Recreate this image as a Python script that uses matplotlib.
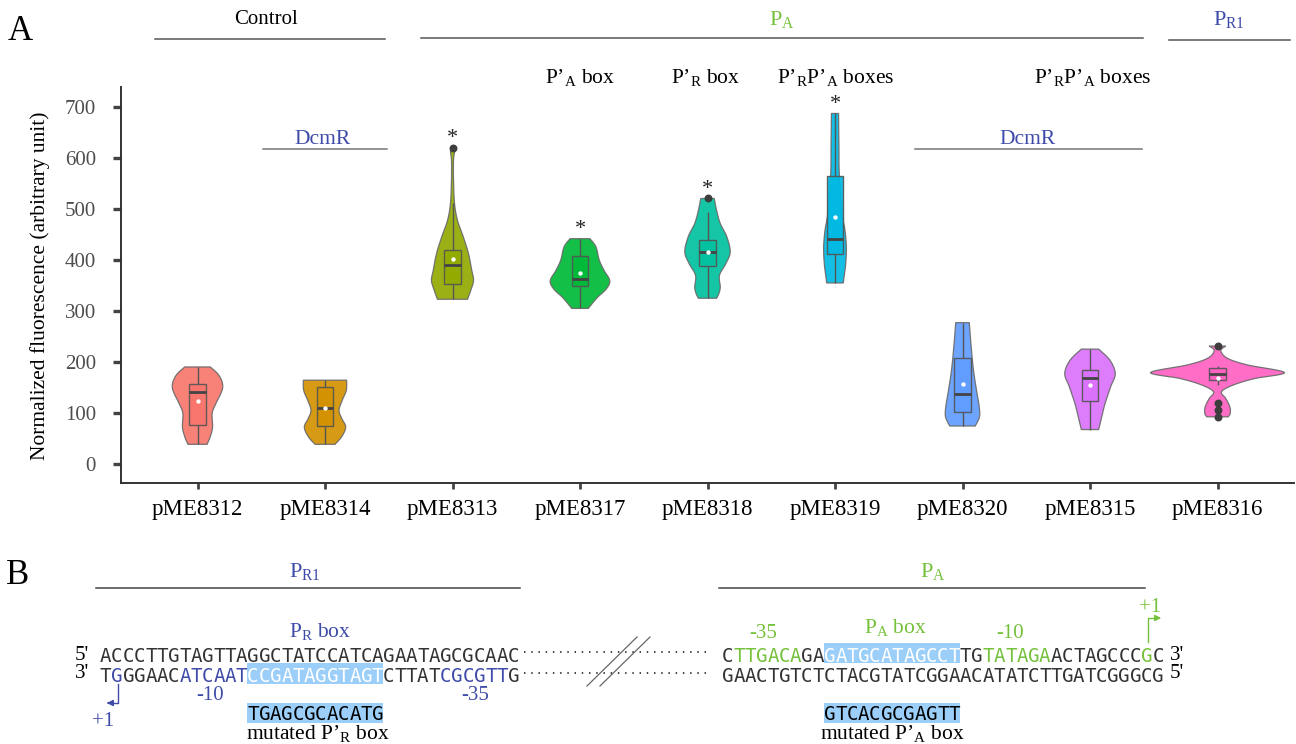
import matplotlib
matplotlib.use("Agg")
import matplotlib.pyplot as plt
from matplotlib.patches import Rectangle, Polygon
import numpy as np

plt.rcParams['font.family'] = ['Liberation Serif', 'DejaVu Serif']
plt.rcParams['mathtext.fontset'] = 'custom'
plt.rcParams['mathtext.rm'] = 'Liberation Serif'
plt.rcParams['mathtext.it'] = 'Liberation Serif:italic'
plt.rcParams['mathtext.bf'] = 'Liberation Serif:bold'

# ---- panel A data ----
plasmids = ['pME8312', 'pME8314', 'pME8313', 'pME8317', 'pME8318',
            'pME8319', 'pME8320', 'pME8315', 'pME8316']
colors = ['#F8766D', '#D39200', '#93AA00', '#00BA38', '#00C19F',
          '#00B9E3', '#619CFF', '#DB72FB', '#FF61C3']

whisker_lo = [38, 38, 323, 305, 325, 355, 74, 67, 154]
q1 = [76, 74, 352, 350, 389, 411, 101, 123, 165]
median = [141, 110, 391, 363, 416, 442, 136, 168, 177]
q3 = [156, 150, 420, 407, 440, 565, 207, 184, 187]
whisker_hi = [190, 164, 512, 442, 495, 688, 277, 225, 192]
means = [123, 110, 402, 374, 416, 484, 156, 154, 169]
outliers = [[], [], [620], [], [521], [], [], [], [231, 119, 105, 92]]
significant = [False, False, True, True, True, True, False, False, False]

# violin outlines: value levels and half-width (in category units)
violin_levels = [
    [38, 53, 72, 99, 118, 138, 151, 164, 177, 190],
    [38, 53, 72, 89, 105, 125, 144, 164],
    [323, 341, 360, 380, 413, 446, 478, 511, 557, 596, 613, 620],
    [305, 325, 344, 360, 380, 400, 426, 442],
    [325, 334, 347, 370, 393, 416, 446, 472, 498, 521],
    [355, 367, 393, 426, 459, 492, 567, 622, 688],
    [74, 92, 112, 144, 184, 230, 277],
    [67, 92, 118, 151, 177, 203, 225],
    [92, 99, 112, 128, 141, 154, 167, 179, 194, 207, 222, 231],
]
violin_width = [
    [0.075, 0.100, 0.118, 0.115, 0.144, 0.183, 0.198, 0.188, 0.157, 0.100],
    [0.078, 0.131, 0.162, 0.131, 0.110, 0.136, 0.167, 0.170],
    [0.118, 0.144, 0.165, 0.151, 0.125, 0.084, 0.039, 0.016, 0.008, 0.008, 0.016, 0.010],
    [0.065, 0.131, 0.209, 0.233, 0.188, 0.151, 0.125, 0.078],
    [0.071, 0.089, 0.100, 0.094, 0.144, 0.178, 0.151, 0.100, 0.071, 0.053],
    [0.065, 0.071, 0.084, 0.089, 0.078, 0.057, 0.034, 0.031, 0.028],
    [0.100, 0.133, 0.131, 0.110, 0.086, 0.068, 0.053],
    [0.068, 0.092, 0.118, 0.162, 0.198, 0.157, 0.068],
    [0.084, 0.100, 0.096, 0.065, 0.031, 0.118, 0.288, 0.525, 0.235, 0.078, 0.026, 0.065],
]

# ---- panel B sequences ----
pr1_top = 'ACCCTTGTAGTTAGGCTATCCATCAGAATAGCGCAAC'
pr1_bottom = 'TGGGAACATCAATCCGATAGGTAGTCTTATCGCGTTG'
pa_top = 'CTTGACAGAGATGCATAGCCTTGTATAGAACTAGCCCGC'
pa_bottom = 'GAACTGTCTCTACGTATCGGAACATATCTTGATCGGGCG'
pr_box_mut = 'TGAGCGCACATG'
pa_box_mut = 'GTCACGCGAGTT'

BLUE = '#3E4BA8'
GREEN = '#76C13C'
HIL = '#9BCFF9'
SEQ = '#333333'


def smooth_curve(xs, ys, n=16):
    p = np.column_stack([xs, ys]).astype(float)
    p = np.vstack([p[0], p, p[-1]])
    t = np.linspace(0, 1, n, endpoint=False)[:, None]
    out = []
    for i in range(1, len(p) - 2):
        p0, p1, p2, p3 = p[i - 1], p[i], p[i + 1], p[i + 2]
        out.append(0.5 * (2 * p1 + (-p0 + p2) * t + (2 * p0 - 5 * p1 + 4 * p2 - p3) * t ** 2
                          + (-p0 + 3 * p1 - 3 * p2 + p3) * t ** 3))
    out.append(p[-2][None])
    return np.vstack(out)


fig = plt.figure(figsize=(12.96, 7.44), dpi=100)
ax = fig.add_axes([121 / 1296, 1 - 483 / 744, 1173 / 1296, 396 / 744])
ax.patch.set_alpha(0)

for i, name in enumerate(plasmids):
    c = smooth_curve(violin_levels[i], violin_width[i])
    v, w = c[:, 0], np.clip(c[:, 1], 0.004, None)
    xs = np.concatenate([i + w, (i - w)[::-1]])
    ys = np.concatenate([v, v[::-1]])
    ax.add_patch(Polygon(np.column_stack([xs, ys]), closed=True, facecolor=colors[i],
                         edgecolor='#6a6a6a', lw=0.9, alpha=0.92, zorder=2))
    bw = 0.064
    ax.vlines(i, whisker_lo[i], q1[i], color='#555555', lw=1.0, zorder=3)
    ax.vlines(i, q3[i], whisker_hi[i], color='#555555', lw=1.0, zorder=3)
    ax.add_patch(Rectangle((i - bw, q1[i]), 2 * bw, q3[i] - q1[i], facecolor=colors[i],
                           edgecolor='#555555', lw=1.0, alpha=0.92, zorder=3))
    ax.hlines(median[i], i - bw, i + bw, color='#444444', lw=2.0, zorder=4)
    if outliers[i]:
        ax.scatter([i] * len(outliers[i]), outliers[i], s=22, color='#3d3d3d', zorder=5)
    ax.scatter([i], [means[i]], s=10, color='white', zorder=6, linewidths=0)
    if significant[i]:
        top = max([whisker_hi[i]] + outliers[i])
        ax.text(i, top + 18, '*', ha='center', va='center', fontsize=16, color='#222222')

ax.set_xlim(-0.6, 8.6)
ax.set_ylim(-38, 740)
ax.set_xticks(range(len(plasmids)), plasmids, fontsize=16.5, color='black')
ax.set_yticks(range(0, 701, 100))
ax.tick_params(axis='y', labelsize=15, labelcolor='#4d4d4d', length=6, width=2.4,
               color='#444444', pad=12)
ax.tick_params(axis='x', length=4.5, width=2, color='#444444', pad=7)
for s in ['top', 'right']:
    ax.spines[s].set_visible(False)
for s in ['left', 'bottom']:
    ax.spines[s].set_color('#333333')
    ax.spines[s].set_linewidth(1.4)

# ---- overlay in pixel coordinates for annotations ----
an = fig.add_axes([0, 0, 1, 1], zorder=-1)
an.set_xlim(0, 1296)
an.set_ylim(744, 0)
an.axis('off')

an.text(20, 31, 'A', fontsize=25, ha='center', va='center')
an.text(18, 575, 'B', fontsize=25, ha='center', va='center')

an.text(266, 20, 'Control', fontsize=15, ha='center', va='center')
an.plot([155, 385], [39, 39], color='#555555', lw=1.1)
an.text(782, 20, r'$\mathrm{P_{A}}$', fontsize=16, ha='center', va='center', color=GREEN)
an.plot([421, 1143], [38, 38], color='#555555', lw=1.1)
an.text(1229, 20, r'$\mathrm{P_{R1}}$', fontsize=16, ha='center', va='center', color=BLUE)
an.plot([1169, 1290], [40, 40], color='#555555', lw=1.1)

an.text(580, 78, r'$\mathrm{P’_{A}}$ box', fontsize=15.5, ha='center', va='center')
an.text(706, 78, r'$\mathrm{P’_{R}}$ box', fontsize=15.5, ha='center', va='center')
an.text(836, 78, r'$\mathrm{P’_{R}P’_{A}}$ boxes', fontsize=15.5, ha='center', va='center')
an.text(1093, 78, r'$\mathrm{P’_{R}P’_{A}}$ boxes', fontsize=15.5, ha='center', va='center')

an.text(323, 139, 'DcmR', fontsize=15.5, ha='center', va='center', color=BLUE)
an.plot([263, 387], [149, 149], color='#777777', lw=1.1)
an.text(1028, 139, 'DcmR', fontsize=15.5, ha='center', va='center', color=BLUE)
an.plot([915, 1142], [149, 149], color='#777777', lw=1.1)

an.text(40, 286, 'Normalized fluorescence (arbitrary unit)', fontsize=15.5,
        rotation=90, ha='center', va='center')

# ---- panel B ----
cw = 11.33
lx0, rx0 = 100, 722
ytop, ybot = 661.5, 681.5
mono = dict(family='DejaVu Sans Mono', fontsize=13.8, ha='center', va='baseline')

an.text(305, 572, r'$\mathrm{P_{R1}}$', fontsize=16, ha='center', va='center', color=BLUE)
an.plot([96, 520], [588, 588], color='#444444', lw=1.1)
an.text(933, 572, r'$\mathrm{P_{A}}$', fontsize=16, ha='center', va='center', color=GREEN)
an.plot([719, 1145], [588, 588], color='#444444', lw=1.1)

an.text(82, 655, "5'", fontsize=15, ha='center', va='center')
an.text(82, 674, "3'", fontsize=15, ha='center', va='center')
an.text(1177, 655, "3'", fontsize=15, ha='center', va='center')
an.text(1177, 674, "5'", fontsize=15, ha='center', va='center')

# highlighted boxes
an.add_patch(Rectangle((lx0 + 13 * cw, 663), 12 * cw, 21, color=HIL, lw=0))
an.add_patch(Rectangle((lx0 + 13 * cw, 703), 12 * cw, 20, color=HIL, lw=0))
an.add_patch(Rectangle((rx0 + 9 * cw, 643), 12 * cw, 20, color=HIL, lw=0))
an.add_patch(Rectangle((rx0 + 9 * cw, 703), 12 * cw, 20, color=HIL, lw=0))

for k, ch in enumerate(pr1_top):
    an.text(lx0 + (k + 0.5) * cw, ytop, ch, color=SEQ, **mono)
for k, ch in enumerate(pr1_bottom):
    col = SEQ
    if k == 1 or 7 <= k <= 12 or 30 <= k <= 35:
        col = BLUE
    elif 13 <= k <= 24:
        col = 'white'
    an.text(lx0 + (k + 0.5) * cw, ybot, ch, color=col, **mono)
for k, ch in enumerate(pa_top):
    col = SEQ
    if 1 <= k <= 6 or 23 <= k <= 28 or k == 37:
        col = GREEN
    elif 9 <= k <= 20:
        col = 'white'
    an.text(rx0 + (k + 0.5) * cw, ytop, ch, color=col, **mono)
for k, ch in enumerate(pa_bottom):
    an.text(rx0 + (k + 0.5) * cw, ybot, ch, color=SEQ, **mono)
for k, ch in enumerate(pr_box_mut):
    an.text(lx0 + (k + 13.5) * cw, 720, ch, color='black', **mono)
for k, ch in enumerate(pa_box_mut):
    an.text(rx0 + (k + 9.5) * cw, 720, ch, color='black', **mono)

# dotted gap and break marks
for yy in (652, 673):
    an.plot([524, 708], [yy, yy], color='#333333', lw=1.3, ls=(0, (0.8, 3.2)))
an.plot([587, 637], [686, 637], color='#666666', lw=0.9)
an.plot([600, 650], [686, 637], color='#666666', lw=0.9)

# labels around the sequences
an.text(320, 632, r'$\mathrm{P_{R}}$ box', fontsize=15.5, ha='center', va='center', color=BLUE)
an.text(210, 696, '-10', fontsize=15, ha='center', va='center', color=BLUE)
an.text(475, 696, '-35', fontsize=15, ha='center', va='center', color=BLUE)
an.text(103, 721, '+1', fontsize=15, ha='center', va='center', color=BLUE)
an.plot([118, 118, 110], [684, 703, 703], color=BLUE, lw=1.0)
an.annotate('', xy=(104, 703), xytext=(112, 703),
            arrowprops=dict(arrowstyle='-|>', color=BLUE, lw=1.0, mutation_scale=9))

an.text(895, 628, r'$\mathrm{P_{A}}$ box', fontsize=15.5, ha='center', va='center', color=GREEN)
an.text(763, 634, '-35', fontsize=15, ha='center', va='center', color=GREEN)
an.text(1010, 634, '-10', fontsize=15, ha='center', va='center', color=GREEN)
an.text(1150, 607, '+1', fontsize=15, ha='center', va='center', color=GREEN)
an.plot([1148, 1148, 1156], [642, 618, 618], color=GREEN, lw=1.0)
an.annotate('', xy=(1164, 618), xytext=(1155, 618),
            arrowprops=dict(arrowstyle='-|>', color=GREEN, lw=1.0, mutation_scale=9))

an.text(318, 733, r'mutated $\mathrm{P’_{R}}$ box', fontsize=15.5, ha='center', va='center')
an.text(892, 733, r'mutated $\mathrm{P’_{A}}$ box', fontsize=15.5, ha='center', va='center')

fig.savefig('out.png', dpi=100)
